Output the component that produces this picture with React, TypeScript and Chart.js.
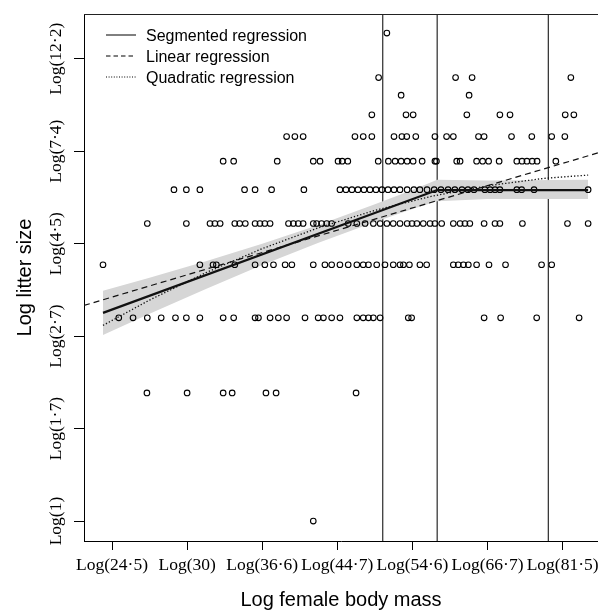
import React, { useEffect, useRef } from 'react';
import { Chart, registerables } from 'chart.js';

Chart.register(...registerables);

// Axis ticks (natural log units)
const xTickValues = [3.2, 3.4, 3.6, 3.8, 4.0, 4.2, 4.4];
const xTickLabels = ['Log(24·5)', 'Log(30)', 'Log(36·6)', 'Log(44·7)', 'Log(54·6)', 'Log(66·7)', 'Log(81·5)'];
const yTickValues = [0, 0.5, 1, 1.5, 2, 2.5];
const yTickLabels = ['Log(1)', 'Log(1·7)', 'Log(2·7)', 'Log(4·5)', 'Log(7·4)', 'Log(12·2)'];

const xRange = [3.1254, 4.4943];
const yRange = [-0.108, 2.742];

// Litter size levels (log) and the log female body masses observed at each level
const levelY = [0, 0.693, 1.099, 1.386, 1.609, 1.792, 1.946, 2.079, 2.197, 2.303, 2.398, 2.639];
const massAt1 = [3.736];
const massAt2 = [3.293, 3.4, 3.496, 3.52, 3.61, 3.637, 3.85];
const massAt3 = [3.218, 3.256, 3.294, 3.331, 3.369, 3.398, 3.434, 3.496, 3.524, 3.581, 3.59, 3.621, 3.643, 3.665, 3.714, 3.749, 3.763, 3.785, 3.807, 3.852, 3.869, 3.883, 3.896, 3.914, 3.989, 3.998, 4.191, 4.235, 4.331, 4.444];
const massAt4 = [3.176, 3.434, 3.469, 3.478, 3.527, 3.581, 3.607, 3.63, 3.661, 3.679, 3.736, 3.767, 3.785, 3.807, 3.829, 3.852, 3.869, 3.883, 3.905, 3.927, 3.949, 3.967, 3.976, 3.992, 4.02, 4.038, 4.109, 4.122, 4.136, 4.149, 4.171, 4.204, 4.248, 4.344, 4.371];
const massAt5 = [3.294, 3.398, 3.461, 3.474, 3.488, 3.527, 3.54, 3.555, 3.581, 3.594, 3.607, 3.621, 3.67, 3.683, 3.696, 3.709, 3.736, 3.745, 3.758, 3.772, 3.785, 3.829, 3.852, 3.874, 3.896, 3.914, 3.932, 3.949, 3.967, 3.986, 3.999, 4.012, 4.029, 4.047, 4.06, 4.078, 4.109, 4.127, 4.14, 4.153, 4.191, 4.22, 4.233, 4.293, 4.413, 4.468];
const massAt6 = [3.365, 3.398, 3.434, 3.553, 3.581, 3.625, 3.711, 3.807, 3.823, 3.839, 3.855, 3.871, 3.887, 3.903, 3.919, 3.935, 3.951, 3.967, 3.986, 4.004, 4.02, 4.039, 4.058, 4.076, 4.095, 4.113, 4.132, 4.148, 4.164, 4.193, 4.207, 4.22, 4.233, 4.278, 4.291, 4.324, 4.468];
const massAt7 = [3.496, 3.524, 3.64, 3.736, 3.754, 3.802, 3.813, 3.828, 3.909, 3.936, 3.954, 3.97, 3.986, 4.002, 4.026, 4.06, 4.064, 4.118, 4.127, 4.171, 4.187, 4.203, 4.231, 4.278, 4.292, 4.305, 4.319, 4.332, 4.382];
const massAt8 = [3.665, 3.687, 3.709, 3.847, 3.869, 3.892, 3.951, 3.972, 3.985, 4.009, 4.06, 4.091, 4.109, 4.176, 4.191, 4.264, 4.318, 4.371, 4.406];
const massAt9 = [3.892, 3.983, 4.002, 4.145, 4.233, 4.26, 4.407, 4.43];
const massAt10 = [3.97, 4.151];
const massAt11 = [3.91, 4.115, 4.159, 4.422];
const massAt14 = [3.932];
const massRows = [massAt1, massAt2, massAt3, massAt4, massAt5, massAt6, massAt7, massAt8, massAt9, massAt10, massAt11, massAt14];

// Fitted lines
const segX = [3.176, 4.066, 4.468];
const segY = [1.126, 1.79, 1.79];
const linX = [3.1254, 4.4943];
const linY = [1.166, 1.991];
const quadX = [3.176, 3.3, 3.45, 3.6, 3.75, 3.9, 4.05, 4.2, 4.35, 4.468];
const quadY = [1.058, 1.195, 1.343, 1.473, 1.586, 1.68, 1.756, 1.813, 1.853, 1.871];
const bandX = [3.176, 3.3, 3.45, 3.6, 3.75, 3.9, 4.0, 4.066, 4.2, 4.468];
const bandLow = [1.006, 1.121, 1.255, 1.384, 1.505, 1.617, 1.688, 1.73, 1.742, 1.742];
const bandHigh = [1.246, 1.315, 1.405, 1.5, 1.601, 1.713, 1.79, 1.845, 1.842, 1.845];
const breakX = [3.921, 4.066, 4.362];

const seriesNames = ['Segmented regression', 'Linear regression', 'Quadratic regression'];

const SANS = '"Liberation Sans", Arial, sans-serif';
const SERIF = '"Liberation Serif", "Times New Roman", serif';

const toPts = (xs: number[], ys: number[]) => xs.map((x, i) => ({ x, y: ys[i] }));

export default function App() {
  const ref = useRef<HTMLCanvasElement | null>(null);

  useEffect(() => {
    document.body.style.margin = '0';
    document.body.style.overflow = 'hidden';
    const canvas = ref.current;
    if (!canvas) return;

    const points = massRows.flatMap((row, i) => row.map((x) => ({ x, y: levelY[i] })));

    const decor = {
      id: 'decor',
      beforeDatasetsDraw(chart: any) {
        const { ctx, chartArea: a, scales } = chart;
        ctx.save();
        ctx.strokeStyle = '#2a2a2a';
        ctx.lineWidth = 1.2;
        breakX.forEach((v) => {
          const px = scales.x.getPixelForValue(v);
          ctx.beginPath();
          ctx.moveTo(px, a.top);
          ctx.lineTo(px, a.bottom);
          ctx.stroke();
        });
        ctx.restore();
      },
      afterDraw(chart: any) {
        const { ctx, chartArea: a, scales } = chart;
        ctx.save();
        // top border of the box
        ctx.strokeStyle = '#222';
        ctx.lineWidth = 1;
        ctx.beginPath();
        ctx.moveTo(a.left, a.top + 0.5);
        ctx.lineTo(a.right, a.top + 0.5);
        ctx.stroke();

        // rotated y tick labels
        ctx.fillStyle = '#000';
        ctx.font = `17.5px ${SERIF}`;
        ctx.textAlign = 'center';
        ctx.textBaseline = 'alphabetic';
        yTickValues.forEach((v, i) => {
          const py = scales.y.getPixelForValue(v);
          ctx.save();
          ctx.translate(a.left - 23, py);
          ctx.rotate(-Math.PI / 2);
          ctx.fillText(yTickLabels[i], 0, 0);
          ctx.restore();
        });

        // legend
        const dashes = [[], [4.5, 3], [1, 1.6]];
        ctx.font = `16px ${SANS}`;
        ctx.textAlign = 'left';
        seriesNames.forEach((name, i) => {
          const ly = a.top + 21 + i * 21;
          ctx.strokeStyle = '#000';
          ctx.lineWidth = 1;
          ctx.setLineDash(dashes[i]);
          ctx.beginPath();
          ctx.moveTo(a.left + 22, ly);
          ctx.lineTo(a.left + 52, ly);
          ctx.stroke();
          ctx.setLineDash([]);
          ctx.fillText(name, a.left + 62, ly + 6);
        });
        ctx.restore();
      },
    };

    const chart = new Chart(canvas, {
      type: 'scatter',
      data: {
        datasets: [
          {
            label: 'CI upper',
            data: toPts(bandX, bandHigh),
            showLine: true,
            borderWidth: 0,
            borderColor: 'rgba(0,0,0,0)',
            backgroundColor: '#d6d6d6',
            pointRadius: 0,
            fill: '+1',
            order: 10,
          },
          {
            label: 'CI lower',
            data: toPts(bandX, bandLow),
            showLine: true,
            borderWidth: 0,
            borderColor: 'rgba(0,0,0,0)',
            pointRadius: 0,
            fill: false,
            order: 10,
          },
          {
            label: 'Observations',
            data: points,
            showLine: false,
            pointRadius: 2.8,
            pointBorderWidth: 1.1,
            pointBorderColor: '#000',
            pointBackgroundColor: 'rgba(0,0,0,0)',
            order: 5,
          },
          {
            label: seriesNames[0],
            data: toPts(segX, segY),
            showLine: true,
            borderColor: '#111',
            borderWidth: 2.3,
            pointRadius: 0,
            fill: false,
            order: 1,
          },
          {
            label: seriesNames[1],
            data: toPts(linX, linY),
            showLine: true,
            borderColor: '#111',
            borderWidth: 1.2,
            borderDash: [6, 4],
            pointRadius: 0,
            fill: false,
            order: 1,
          },
          {
            label: seriesNames[2],
            data: toPts(quadX, quadY),
            showLine: true,
            borderColor: '#111',
            borderWidth: 1.3,
            borderDash: [1.3, 2],
            pointRadius: 0,
            fill: false,
            order: 1,
          },
        ],
      },
      options: {
        animation: false,
        responsive: false,
        devicePixelRatio: 1,
        events: [],
        layout: { autoPadding: false, padding: { top: 14, right: 0, bottom: 0, left: 0 } },
        plugins: {
          legend: { display: false },
          tooltip: { enabled: false },
        },
        scales: {
          x: {
            type: 'linear',
            position: 'bottom',
            min: xRange[0],
            max: xRange[1],
            afterBuildTicks: (s: any) => {
              s.ticks = xTickValues.map((v) => ({ value: v }));
            },
            afterFit: (s: any) => {
              s.height = 69;
              s.paddingLeft = 0;
              s.paddingRight = 0;
            },
            ticks: {
              autoSkip: false,
              maxRotation: 0,
              minRotation: 0,
              padding: 4.5,
              color: '#000',
              font: { family: SERIF, size: 17.5 },
              callback: (_v: any, i: number) => xTickLabels[i],
            },
            grid: { drawOnChartArea: false, drawTicks: true, tickLength: 9, color: '#000', lineWidth: 1 },
            border: { display: true, color: '#000', width: 1 },
            title: {
              display: true,
              text: 'Log female body mass',
              color: '#000',
              font: { family: SANS, size: 20, lineHeight: 1 },
              padding: { top: 0, bottom: 0 },
            },
          },
          y: {
            type: 'linear',
            position: 'left',
            min: yRange[0],
            max: yRange[1],
            afterBuildTicks: (s: any) => {
              s.ticks = yTickValues.map((v) => ({ value: v }));
            },
            afterFit: (s: any) => {
              s.width = 84;
              s.paddingTop = 0;
              s.paddingBottom = 0;
            },
            ticks: { display: false },
            grid: { drawOnChartArea: false, drawTicks: true, tickLength: 10, color: '#000', lineWidth: 1 },
            border: { display: true, color: '#000', width: 1 },
            title: {
              display: true,
              text: 'Log litter size',
              color: '#000',
              font: { family: SANS, size: 20, lineHeight: 1 },
              padding: { top: 15, bottom: 0 },
            },
          },
        },
      },
      plugins: [decor],
    } as any);

    return () => chart.destroy();
  }, []);

  return (
    <div style={{ width: 598, height: 610 }}>
      <canvas ref={ref} width={598} height={610} style={{ display: 'block' }} />
    </div>
  );
}
